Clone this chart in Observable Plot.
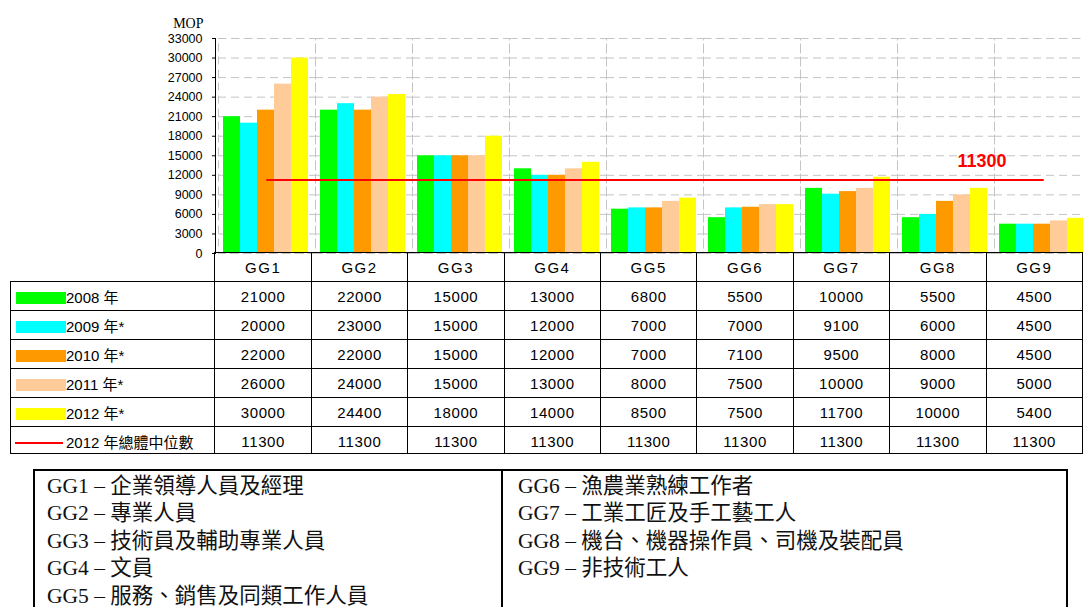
<!DOCTYPE html>
<html>
<head>
<meta charset="utf-8">
<script src="https://cdn.jsdelivr.net/npm/d3@7"></script>
<script src="https://cdn.jsdelivr.net/npm/@observablehq/plot@0.6"></script>
<style>
  body { margin: 0; background: #fff; }
  #wrap { position: relative; width: 1083px; height: 607px; overflow: hidden; background: #fff; }
  #wrap svg { position: absolute; left: 0; top: 0; max-width: none; }
  #tbl { position: absolute; left: 10px; top: 252px; border-collapse: collapse; table-layout: fixed;
         font-family: "Liberation Sans", Arial, "Noto Sans CJK TC", sans-serif; font-size: 15px; color: #000; }
  #tbl td { border: 1.5px solid #000; text-align: center; padding: 0; white-space: nowrap; overflow: hidden; letter-spacing: 0.6px; }
  #tbl td.blank { border: none; }
  #tbl td.lab { text-align: left; letter-spacing: 0; }
  #tbl td.hdr { letter-spacing: 1.5px; }
  #tbl tr { height: 29px; }
  #tbl tr:last-of-type { height: 27px; }
  #tbl tr:last-of-type td { padding-top: 3px; }
  .sw { display: inline-block; width: 50px; height: 12px; margin-left: 5px; vertical-align: -1px; }
  .swl { display: inline-block; width: 48px; height: 2px; margin-left: 4px; margin-right: 3px; vertical-align: 4px; background: #ff0000; }
  #desc { position: absolute; left: 33px; top: 469px; width: 1031px; height: 200px; border: 2px solid #000; display: flex;
          font-family: "Liberation Serif", "Times New Roman", "Noto Sans CJK TC", serif; font-size: 21.5px; line-height: 27.4px; color: #111; }
  #desc .c1 { width: 454px; border-right: 2px solid #000; padding-left: 12px; padding-top: 2px; }
  #desc .c2 { padding-left: 15px; padding-top: 2px; }
</style>
</head>
<body>
<div id="wrap"></div>
<script>
// ---- data ----
const categories = ["GG1", "GG2", "GG3", "GG4", "GG5", "GG6", "GG7", "GG8", "GG9"];
const years = ["2008 年", "2009 年*", "2010 年*", "2011 年*", "2012 年*"];
const v2008 = [21000, 22000, 15000, 13000, 6800, 5500, 10000, 5500, 4500];
const v2009 = [20000, 23000, 15000, 12000, 7000, 7000, 9100, 6000, 4500];
const v2010 = [22000, 22000, 15000, 12000, 7000, 7100, 9500, 8000, 4500];
const v2011 = [26000, 24000, 15000, 13000, 8000, 7500, 10000, 9000, 5000];
const v2012 = [30000, 24400, 18000, 14000, 8500, 7500, 11700, 10000, 5400];
const median2012 = [11300, 11300, 11300, 11300, 11300, 11300, 11300, 11300, 11300];
const medianLabel = "2012 年總體中位數";
const medianValueLabel = "11300";
const seriesColors = ["#00ff00", "#00ffff", "#ff9900", "#ffcc99", "#ffff00"];
const yTicks = [0, 3000, 6000, 9000, 12000, 15000, 18000, 21000, 24000, 27000, 30000, 33000];
const yUnit = "MOP";
const descLeft = ["GG1 – 企業領導人員及經理", "GG2 – 專業人員", "GG3 – 技術員及輔助專業人員", "GG4 – 文員", "GG5 – 服務、銷售及同類工作人員"];
const descRight = ["GG6 – 漁農業熟練工作者", "GG7 – 工業工匠及手工藝工人", "GG8 – 機台、機器操作員、司機及裝配員", "GG9 – 非技術工人"];

const series = [v2008, v2009, v2010, v2011, v2012];
const barData = years.flatMap((yr, i) => categories.map((c, j) => ({cat: c, year: yr, value: series[i][j]})));
const medianData = categories.map((c, j) => ({cat: c, value: median2012[j]}));

const wrap = document.getElementById("wrap");
const common = {width: 1094, height: 262, marginLeft: 215, marginRight: 0, marginTop: 38, marginBottom: 9};

// bars, grid (faceted by category)
const plotA = Plot.plot({
  ...common,
  style: {background: "transparent"},
  facet: {data: barData, x: "cat"},
  fx: {domain: categories, padding: 0, axis: null, label: null},
  x: {domain: years, paddingInner: 0, paddingOuter: 0.23, align: 0.45, axis: null},
  y: {domain: [0, 33000], axis: null},
  color: {domain: years, range: seriesColors},
  marks: [
    Plot.ruleY(yTicks, {stroke: "#c4c4c4", strokeDasharray: "8,5", strokeWidth: 1}),
    Plot.frame({stroke: "#c4c4c4", strokeDasharray: "8,5", strokeWidth: 1}),
    Plot.barY(barData, {x: "year", y: "value", fill: "year"})
  ]
});
wrap.appendChild(plotA);

// overlay: y axis, median line, labels
const plotB = Plot.plot({
  ...common,
  style: {background: "transparent", fontFamily: "Liberation Sans, Arial, sans-serif", fontSize: "12.5px", color: "#000"},
  x: {type: "band", domain: categories, padding: 0, axis: null},
  y: {domain: [0, 33000], ticks: yTicks, tickSize: 3, tickPadding: 10, line: true, label: null, tickFormat: d => String(d)},
  marks: [
    Plot.line(medianData, {x: "cat", y: "value", stroke: "#ff0000", strokeWidth: 2}),
    Plot.text([medianData[8]], {x: "cat", y: "value", text: () => medianValueLabel, fill: "#ff0000",
      fontWeight: "bold", fontSize: 18, dx: -61, dy: -19}),
    Plot.text([yUnit], {frameAnchor: "top-left", text: d => d, dx: -12, dy: -20, textAnchor: "end",
      fontFamily: "Liberation Serif, Times New Roman, serif", fontSize: 14, fill: "#000"})
  ]
});
wrap.appendChild(plotB);

// data table
const table = document.createElement("table");
table.id = "tbl";
const colg = document.createElement("colgroup");
colg.innerHTML = `<col style="width:205px">` + categories.map(() => `<col style="width:97.67px">`).join("");
table.appendChild(colg);
const hdr = document.createElement("tr");
hdr.innerHTML = `<td class="blank"></td>` + categories.map(c => `<td class="hdr">${c}</td>`).join("");
table.appendChild(hdr);
years.forEach((yr, i) => {
  const tr = document.createElement("tr");
  tr.innerHTML = `<td class="lab"><span class="sw" style="background:${seriesColors[i]}"></span>${yr}</td>` +
    series[i].map(v => `<td>${v}</td>`).join("");
  table.appendChild(tr);
});
const mtr = document.createElement("tr");
mtr.innerHTML = `<td class="lab"><span class="swl"></span>${medianLabel}</td>` + median2012.map(v => `<td>${v}</td>`).join("");
table.appendChild(mtr);
wrap.appendChild(table);

// category description box
const desc = document.createElement("div");
desc.id = "desc";
desc.innerHTML = `<div class="c1">${descLeft.map(t => `<div>${t}</div>`).join("")}</div>` +
  `<div class="c2">${descRight.map(t => `<div>${t}</div>`).join("")}</div>`;
wrap.appendChild(desc);
</script>
</body>
</html>
